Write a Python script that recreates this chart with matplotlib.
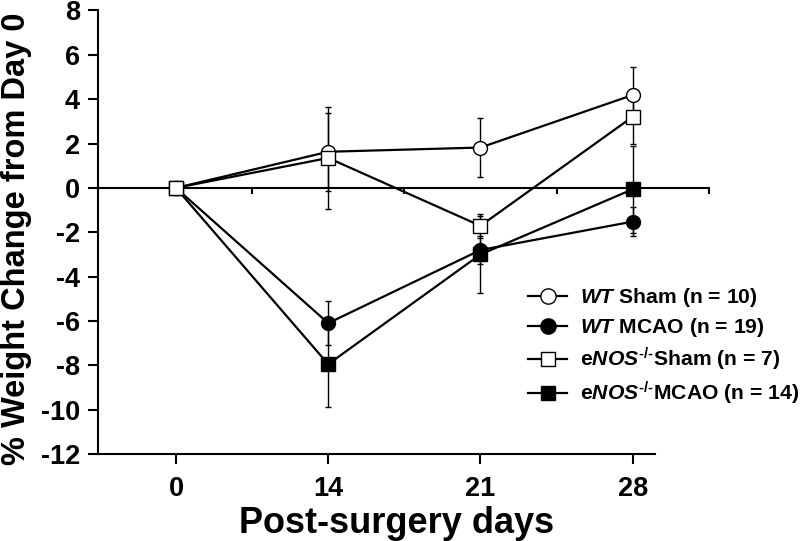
import matplotlib
matplotlib.use('Agg')
import matplotlib.pyplot as plt
from matplotlib.lines import Line2D

plt.rcParams['font.family'] = ['Liberation Sans', 'DejaVu Sans']
plt.rcParams['font.weight'] = 'bold'
plt.rcParams['axes.unicode_minus'] = False
plt.rcParams['mathtext.fontset'] = 'custom'
plt.rcParams['mathtext.rm'] = 'Liberation Sans:bold'
plt.rcParams['mathtext.it'] = 'Liberation Sans:italic:bold'
plt.rcParams['mathtext.bf'] = 'Liberation Sans:bold'

# ---- data ----
days = ['0', '14', '21', '28']
wt_sham = [0, 1.63, 1.82, 4.19]
wt_sham_err = [0, 1.75, 1.33, 1.25]
wt_mcao = [0, -6.1, -2.8, -1.52]
wt_mcao_err = [0, 1.0, 0.65, 0.66]
enos_sham = [0, 1.35, -1.71, 3.21]
enos_sham_err = [0, 2.3, 0.55, 1.23]
enos_mcao = [0, -7.95, -3.0, -0.06]
enos_mcao_err = [0, 1.95, 1.74, 1.96]

labels = [r'$\mathit{WT}$ Sham (n = 10)',
          r'$\mathit{WT}$ MCAO (n = 19)',
          'e$\\mathit{NOS}^{\\mathit{\u2010/\u2010}}$Sham (n = 7)',
          'e$\\mathit{NOS}^{\\mathit{\u2010/\u2010}}$MCAO (n = 14)']

fig = plt.figure(figsize=(8, 5.41), dpi=100)
L, B, W, H = 0.1225, 0.1608, 0.696, 0.8198
ax = fig.add_axes([L, B, W, H])
xmin, xmax = -0.512, 3.145
ymin, ymax = -12, 8
ax.set_xlim(xmin, xmax)
ax.set_ylim(ymin, ymax)
x = list(range(len(days)))

# zero reference line with category-boundary ticks
zright = 3.5
zfrac = (0 - ymin) / (ymax - ymin)
zax = fig.add_axes([L, B + zfrac * H, W * (zright - xmin) / (xmax - xmin), 1e-4])
zax.set_xlim(xmin, zright)
for s in ['top', 'left', 'right']:
    zax.spines[s].set_visible(False)
zax.spines['bottom'].set_linewidth(1.5)
zax.set_xticks([0.5, 1.5, 2.5, 3.5])
zax.tick_params(axis='x', direction='out', length=4, width=1.5, labelbottom=False)
zax.set_yticks([])
zax.patch.set_visible(False)
zax.set_zorder(0)
ax.set_zorder(1)
ax.patch.set_visible(False)

series = [
    (wt_sham, wt_sham_err, 'o', 'white'),
    (wt_mcao, wt_mcao_err, 'o', 'black'),
    (enos_mcao, enos_mcao_err, 's', 'black'),
    (enos_sham, enos_sham_err, 's', 'white'),
]
for vals, err, mk, fc in series:
    ax.errorbar(x, vals, yerr=err, fmt='none', ecolor='black', elinewidth=1.0,
                capsize=2.5, capthick=1.0, errorevery=(1, 1), zorder=2)
for vals, err, mk, fc in series:
    ax.plot(x, vals, color='black', lw=1.6, marker=mk, markersize=10,
            markerfacecolor=fc, markeredgecolor='black', markeredgewidth=1.0, zorder=3)

for s in ['top', 'right']:
    ax.spines[s].set_visible(False)
for s in ['left', 'bottom']:
    ax.spines[s].set_linewidth(1.5)
ax.set_xticks(x)
ax.set_xticklabels(days)
ax.set_yticks(range(-12, 9, 2))
ax.tick_params(axis='y', direction='out', length=7, width=1.5, labelsize=19.5, pad=6)
ax.tick_params(axis='x', direction='out', length=7, width=1.5, labelsize=19.5, pad=9)
ax.set_xlabel('Post-surgery days', fontsize=26, fontweight='bold')
ax.xaxis.set_label_coords(0.537, -0.118)
ax.set_ylabel('% Weight Change from Day 0', fontsize=23.5, fontweight='bold')
ax.yaxis.set_label_coords(-0.118, 0.485)

handles = [
    Line2D([], [], color='black', lw=1.6, marker='o', markersize=11, markerfacecolor='white', markeredgewidth=1.0),
    Line2D([], [], color='black', lw=1.6, marker='o', markersize=11, markerfacecolor='black', markeredgewidth=1.0),
    Line2D([], [], color='black', lw=1.6, marker='s', markersize=10.5, markerfacecolor='white', markeredgewidth=1.0),
    Line2D([], [], color='black', lw=1.6, marker='s', markersize=10.5, markerfacecolor='black', markeredgewidth=1.0),
]
fig.legend(handles, labels, loc='upper left', bbox_to_anchor=(528 / 800, 1 - 286 / 541),
           frameon=False, borderpad=0, borderaxespad=0, handlelength=1.85,
           handletextpad=0.6, labelspacing=0.33, prop={'size': 15.2, 'weight': 'bold'})

fig.savefig('out.png', dpi=100)
